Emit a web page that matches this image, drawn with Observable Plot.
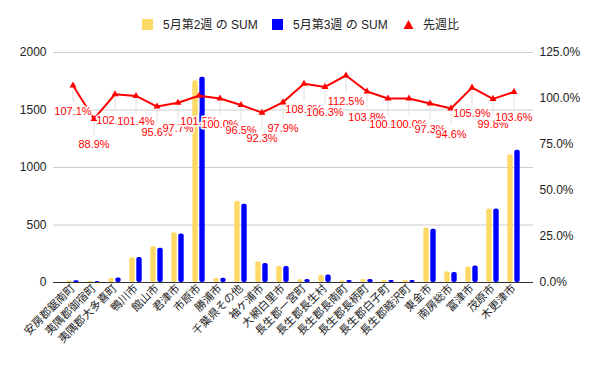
<!DOCTYPE html>
<html><head><meta charset="utf-8">
<script src="https://cdn.jsdelivr.net/npm/d3@7"></script>
<script src="https://cdn.jsdelivr.net/npm/@observablehq/plot@0.6"></script>
<style>
body{margin:0;background:#fff;font-family:"Liberation Sans","Noto Sans CJK JP",sans-serif;}
#wrap{position:relative;width:600px;height:371px;overflow:hidden;background:#fff}
#legend{position:absolute;left:0;top:0;width:600px;height:40px;font-size:12px;color:#222}
.sw{position:absolute;top:19px;width:11px;height:11px}
.lt{position:absolute;top:18px;line-height:14px;white-space:nowrap}
#chart{position:absolute;left:0;top:40px}
</style></head><body>
<div id="wrap">
<div id="legend"></div>
<div id="chart"></div>
</div>
<script>
const categories = ["安房郡鋸南町","夷隅郡御宿町","夷隅郡大多喜町","鴨川市","館山市","君津市","市原市","勝浦市","千葉県その他","袖ケ浦市","大網白里市","長生郡一宮町","長生郡長生村","長生郡長南町","長生郡長柄町","長生郡白子町","長生郡睦沢町","東金市","南房総市","富津市","茂原市","木更津市"];
const week2 = [14, 9, 36, 215, 312, 432, 1755, 37, 706, 180, 142, 25, 62, 16, 26, 18, 18, 475, 93, 135, 640, 1110];
const week3 = [15, 8, 40, 218, 298, 422, 1785, 37, 681, 166, 139, 27, 66, 18, 27, 18, 18, 462, 88, 143, 639, 1150];
const ratio = [107.1, 88.9, 102.3, 101.4, 95.6, 97.7, 101.5, 100.0, 96.5, 92.3, 97.9, 108.0, 106.3, 112.5, 103.8, 100.0, 100.0, 97.3, 94.6, 105.9, 99.8, 103.6];
const seriesNames = ["5月第2週 の SUM", "5月第3週 の SUM", "先週比"];
const leftTicks = [0, 500, 1000, 1500, 2000];
const rightTicks = [0, 25, 50, 75, 100, 125];

const colors = ["#ffd966", "#0000ff", "#ff0000"];
const legend = document.getElementById("legend");
const legPos = [[142, 163], [272, 293], [403, 423]];
seriesNames.forEach((name, i) => {
  if (i < 2) {
    const sw = document.createElement("div");
    sw.className = "sw"; sw.style.left = legPos[i][0] + "px"; sw.style.background = colors[i];
    legend.appendChild(sw);
  } else {
    const ns = "http://www.w3.org/2000/svg";
    const s = document.createElementNS(ns, "svg");
    s.setAttribute("width", 11); s.setAttribute("height", 11);
    s.style.position = "absolute"; s.style.left = legPos[i][0] + "px"; s.style.top = "19px";
    const p = document.createElementNS(ns, "path");
    p.setAttribute("d", "M5.5,1L10.5,10H0.5Z"); p.setAttribute("fill", colors[i]);
    s.appendChild(p); legend.appendChild(s);
  }
  const t = document.createElement("div");
  t.className = "lt"; t.style.left = legPos[i][1] + "px"; t.textContent = name;
  legend.appendChild(t);
});

const data = categories.map((c, i) => ({c, w2: week2[i], w3: week3[i], r: ratio[i]}));
const K = 2000 / 125;

const chart = Plot.plot({
  width: 600, height: 331,
  marginTop: 12, marginBottom: 89, marginLeft: 53, marginRight: 67,
  style: {fontFamily: '"Liberation Sans","Noto Sans CJK JP",sans-serif', fontSize: "12px", color: "#222", background: "#fff"},
  x: {type: "band", domain: categories, padding: 0, insetLeft: 3, insetRight: 3},
  y: {domain: [0, 2000]},
  marks: [
    Plot.ruleY(leftTicks.filter(v => v > 0), {stroke: "#ccc"}),
    Plot.barY(data, {x: "c", y: "w2", fill: colors[0], insetLeft: 4.3, insetRight: 11.3, rx: 2}),
    Plot.barY(data, {x: "c", y: "w3", fill: colors[1], insetLeft: 11.3, insetRight: 4.3, rx: 2}),
    Plot.ruleY([0], {stroke: "#333"}),
    Plot.ruleX(data, {x: "c", y1: d => d.r * K, y2: d => d.r * K - 150, stroke: "#e0e0e0"}),
    Plot.line(data, {x: "c", y: d => d.r * K, stroke: colors[2], strokeWidth: 2}),
    Plot.dot(data, {x: "c", y: d => d.r * K, symbol: "triangle", r: 2.6, fill: colors[2]}),
    Plot.text(data, {x: "c", y: d => d.r * K, dy: 26, text: d => d.r.toFixed(1) + "%", fill: colors[2], stroke: "#fff", strokeWidth: 3, fontSize: 11}),
    Plot.axisY({ticks: leftTicks, tickFormat: v => String(v), tickSize: 0, tickPadding: 7, anchor: "left", label: null}),
    Plot.axisY({ticks: rightTicks.map(v => v * K), tickFormat: v => (v / K).toFixed(1) + "%", anchor: "right", tickSize: 0, tickPadding: 6, label: null}),
    Plot.axisX({tickRotate: -45, tickSize: 0, tickPadding: 4, fontSize: 11, label: null})
  ]
});
document.getElementById("chart").appendChild(chart);
</script>
</body></html>
